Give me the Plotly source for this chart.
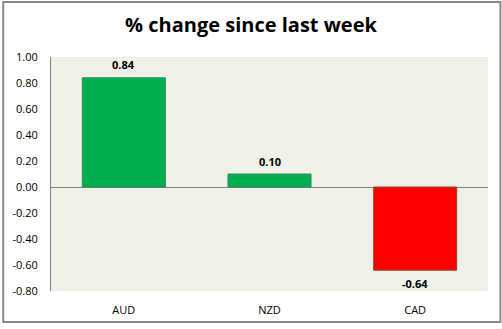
import plotly.graph_objects as go

categories = ["AUD", "NZD", "CAD"]
values = [0.84, 0.10, -0.64]
bar_colors = ["#00B050", "#00B050", "#FF0000"]
line_colors = ["#2E8B57", "#2E8B57", "#8B4A2B"]
y_ticks = [1.0, 0.8, 0.6, 0.4, 0.2, 0.0, -0.2, -0.4, -0.6, -0.8]
y_tick_labels = [f"{v:.2f}" for v in y_ticks]
title_text = "% change since last week"

W, H = 502, 329
ml, mr, mt, mb = 49, 14, 57, 34
pw, ph = W - ml - mr, H - mt - mb

fig = go.Figure(go.Bar(
    x=categories,
    y=values,
    marker=dict(color=bar_colors, line=dict(color=line_colors, width=1)),
    width=0.57,
    cliponaxis=False,
))

for c, v in zip(categories, values):
    fig.add_annotation(
        x=c, y=v, text=f"{v:.2f}", showarrow=False,
        yanchor="middle", yshift=13 if v >= 0 else -13,
        font=dict(family="Open Sans", size=11, color="#000000", weight="bold"),
    )

fig.update_layout(
    width=W, height=H,
    margin=dict(l=ml, r=mr, t=mt, b=mb),
    paper_bgcolor="white",
    plot_bgcolor="#EFF1E9",
    showlegend=False,
    title=dict(text=title_text, x=0.5, xref="container", xanchor="center", y=1 - 25 / H, yanchor="middle",
               font=dict(family="Open Sans", size=20, color="#000000", weight="bold")),
    font=dict(family="Open Sans", size=11, color="#000000"),
)
fig.update_yaxes(
    range=[-0.8, 1.0], tickvals=y_ticks, ticktext=y_tick_labels,
    showgrid=False, zeroline=True, zerolinecolor="#808080", zerolinewidth=1,
    showline=True, linecolor="#808080", linewidth=1,
    ticks="", ticklabelstandoff=10,
    tickfont=dict(family="Open Sans", size=11, color="#000000"),
)
fig.update_xaxes(
    showgrid=False, showline=False, ticks="", ticklabelstandoff=11,
    tickfont=dict(family="Open Sans", size=11, color="#000000"),
)
# outer chart border (pixel positions converted to paper coordinates)
fig.add_shape(type="rect", xref="paper", yref="paper",
              x0=(1 - ml) / pw, x1=(W - 1.5 - ml) / pw,
              y0=(H - mb - (H - 2.5)) / ph, y1=(H - mb - 1) / ph,
              line=dict(color="#8a8a8a", width=2), fillcolor="rgba(0,0,0,0)", layer="above")
fig.write_html("out.html")
